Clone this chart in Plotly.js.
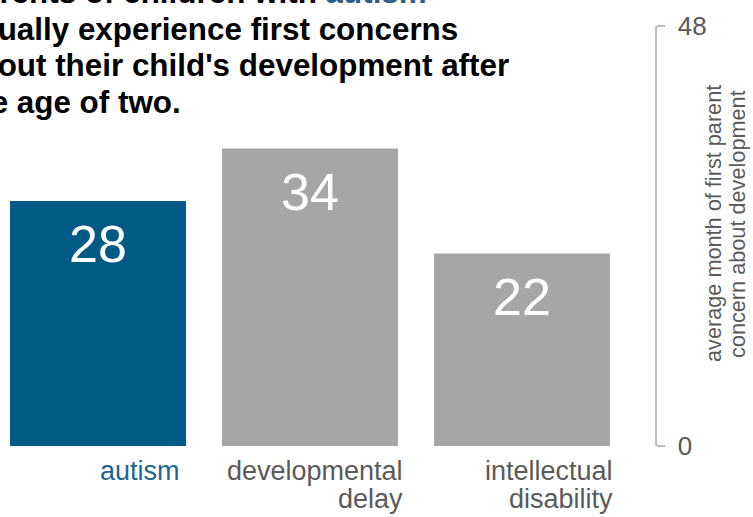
<!DOCTYPE html>
<html>
<head>
<meta charset="utf-8">
<script src="https://cdn.plot.ly/plotly-3.0.1.min.js"></script>
<style>
  html, body { margin: 0; padding: 0; background: #ffffff; }
  #chart { width: 753px; height: 517px; }
</style>
</head>
<body>
<div id="chart"></div>
<script>
// ---- data ----
const categories = ["autism", "developmental delay", "intellectual disability"];
const categoryLabelLines = [["autism"], ["developmental", "delay"], ["intellectual", "disability"]];
const firstConcernMonth = [28, 34, 22];
const yTickValues = [0, 48];
const yTickLabels = ["0", "48"];
const titleLines = [
  "Parents of children with <span style='color:#2f5d8d'>autism</span>",
  "usually experience first concerns",
  "about their child's development after",
  "the age of two."
];
const yTitleLines = ["average month of first parent", "concern about development"];

// ---- styles ----
const FONT = "Liberation Sans, Arial, Helvetica, sans-serif";
const barColors = ["#005a86", "#a6a6a6", "#a6a6a6"];
const labelColors = ["#1d6691", "#5a5a5a", "#5a5a5a"];
const labelShift = [84, 95, 93];
const PLOT_TOP = 26, PLOT_BOTTOM = 446;

const trace = {
  type: "bar",
  x: categories,
  y: firstConcernMonth,
  width: 0.83,
  marker: { color: barColors, line: { width: 0 } },
  hoverinfo: "skip",
  showlegend: false
};

const annotations = [];

// value labels inside bars
categories.forEach((c, i) => {
  annotations.push({
    x: c, y: firstConcernMonth[i], xref: "x", yref: "y",
    text: String(firstConcernMonth[i]),
    showarrow: false, xanchor: "center", yanchor: "middle",
    yshift: -43,
    font: { family: FONT, size: 52, color: "#ffffff" }
  });
});

// category labels under bars (right aligned)
const catSize = 27, catLineGap = 28, catFirstBaseline = 480;
categories.forEach((c, i) => {
  categoryLabelLines[i].forEach((line, k) => {
    const baseline = catFirstBaseline + k * catLineGap;
    const center = baseline - 0.34 * catSize;
    annotations.push({
      x: c, y: 0, xref: "x", yref: "y",
      text: line, showarrow: false,
      xanchor: "right", yanchor: "middle",
      xshift: labelShift[i], yshift: PLOT_BOTTOM - center,
      font: { family: FONT, size: catSize, color: labelColors[i] }
    });
  });
});

// title lines (partially outside the visible frame, as in the reference)
const titleSize = 31.4, titleGap = 36.7, titleFirstBaseline = 3;
titleLines.forEach((line, k) => {
  const baseline = titleFirstBaseline + k * titleGap;
  const center = baseline - 0.34 * titleSize;
  annotations.push({
    x: 0, y: 1, xref: "paper", yref: "paper",
    text: "<b>" + line + "</b>", showarrow: false,
    xanchor: "left", yanchor: "middle", align: "left",
    xshift: -41, yshift: PLOT_TOP - center,
    font: { family: FONT, size: titleSize, color: "#000000" }
  });
});

// y axis title (two rotated lines)
const yTitleX = [713, 737];
yTitleLines.forEach((line, k) => {
  annotations.push({
    x: 1, y: 0.5, xref: "paper", yref: "paper",
    text: line, showarrow: false, textangle: -90,
    xanchor: "center", yanchor: "middle",
    xshift: yTitleX[k] - 655, yshift: 12,
    font: { family: FONT, size: 21.7, color: "#5a5a5a" }
  });
});

const layout = {
  width: 753, height: 517,
  margin: { l: 0, r: 98, t: PLOT_TOP, b: 517 - PLOT_BOTTOM, pad: 0 },
  paper_bgcolor: "#ffffff",
  plot_bgcolor: "#ffffff",
  showlegend: false,
  xaxis: {
    type: "category",
    range: [-0.4623, 2.6274],
    showticklabels: false, showline: false, showgrid: false, zeroline: false, ticks: ""
  },
  yaxis: {
    side: "right",
    range: [0, 48],
    tickmode: "array", tickvals: yTickValues, ticktext: yTickLabels,
    ticks: "outside", ticklen: 8, tickwidth: 1.5, tickcolor: "#bdbdbd",
    showline: true, linecolor: "#bdbdbd", linewidth: 1.5,
    showgrid: false, zeroline: false,
    ticklabelstandoff: 8,
    tickfont: { family: FONT, size: 26, color: "#595959" }
  },
  annotations: annotations
};

Plotly.newPlot("chart", [trace], layout, { staticPlot: true, displayModeBar: false });
</script>
</body>
</html>
